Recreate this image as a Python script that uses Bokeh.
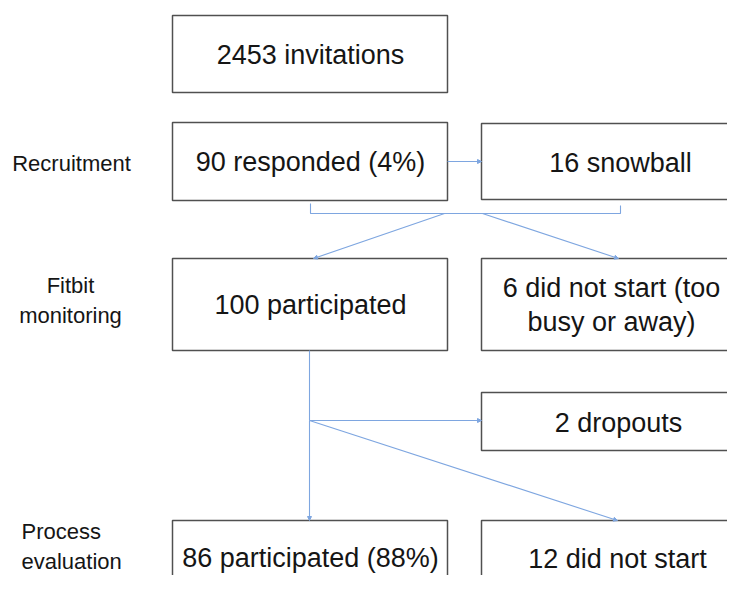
from bokeh.plotting import figure
from bokeh.models import Range1d, Arrow, NormalHead
from bokeh.core.properties import value
from bokeh.embed import file_html
from bokeh.resources import INLINE

# ---- content ----
stage_labels = ["Recruitment", "Fitbit\nmonitoring", "Process\nevaluation"]
node_texts = ["2453 invitations", "90 responded (4%)", "16 snowball",
              "100 participated", "6 did not start (too\nbusy or away)",
              "2 dropouts", "86 participated (88%)", "12 did not start"]

# ---- layout (pixel space, y downward) ----
box_left   = [172, 172, 481, 172, 481, 481, 172, 481]
box_right  = [447, 447, 745, 447, 745, 745, 447, 745]
box_top    = [15, 122, 123, 258, 258, 392, 520, 520]
box_bottom = [92, 200, 199, 350, 350, 450, 620, 620]
text_cx    = [310, 310, 620, 310, 611, 618, 310, 617]
text_cy    = [54, 161, 162, 304, 287, 422, 557, 558]

W, H = 727, 575
p = figure(width=W, height=H, output_backend="svg", toolbar_location=None,
           x_range=Range1d(0, W), y_range=Range1d(H, 0),
           min_border=0, outline_line_color=None)
p.axis.visible = False
p.grid.visible = False
p.background_fill_color = "white"
p.border_fill_color = "white"

p.quad(left=box_left, right=box_right, top=box_top, bottom=box_bottom,
       fill_color="white", line_color="#505050", line_width=1.5)

# node texts
xs, ys, ts = [], [], []
for t, cx, cy in zip(node_texts, text_cx, text_cy):
    lines = t.split("\n")
    for i, ln in enumerate(lines):
        xs.append(cx); ys.append(cy + i * 34); ts.append(ln)
p.text(x=xs, y=ys, text=ts, text_align="center", text_baseline="middle",
       text_font=value("Liberation Sans"), text_font_size="27px",
       text_color="#151515")

# stage labels
sx, sy, st, sa = [], [], [], []
stage_pos = [(71, 163, "center"), (70, 285, "center"), (21, 531, "left")]
for lab, (x0, y0, al) in zip(stage_labels, stage_pos):
    for i, ln in enumerate(lab.split("\n")):
        sx.append(x0); sy.append(y0 + i * 30); st.append(ln); sa.append(al)
for al in ("center", "left"):
    idx = [i for i in range(len(st)) if sa[i] == al]
    p.text(x=[sx[i] for i in idx], y=[sy[i] for i in idx], text=[st[i] for i in idx],
           text_align=al, text_baseline="middle",
           text_font=value("Liberation Sans"), text_font_size="22px",
           text_color="#151515")

LC = "#7ea6e0"
# bracket under recruitment row
p.line(x=[310, 310, 620, 620], y=[203, 213, 213, 205], line_color=LC, line_width=1.1)
# vertical from 100 participated
p.line(x=[309, 309], y=[350, 420], line_color=LC, line_width=1.1)

arrows = [
    (447, 161, 481, 161),
    (444, 213, 313, 258),
    (482, 213, 618, 258),
    (309, 420, 481, 420),
    (309, 420, 309, 520),
    (309, 420, 617, 520),
]
for x0, y0, x1, y1 in arrows:
    p.add_layout(Arrow(x_start=x0, y_start=y0, x_end=x1, y_end=y1,
                       line_color=LC, line_width=1.1,
                       end=NormalHead(size=4, line_color=LC, fill_color=LC)))

open("out.html", "w").write(file_html(p, INLINE))
